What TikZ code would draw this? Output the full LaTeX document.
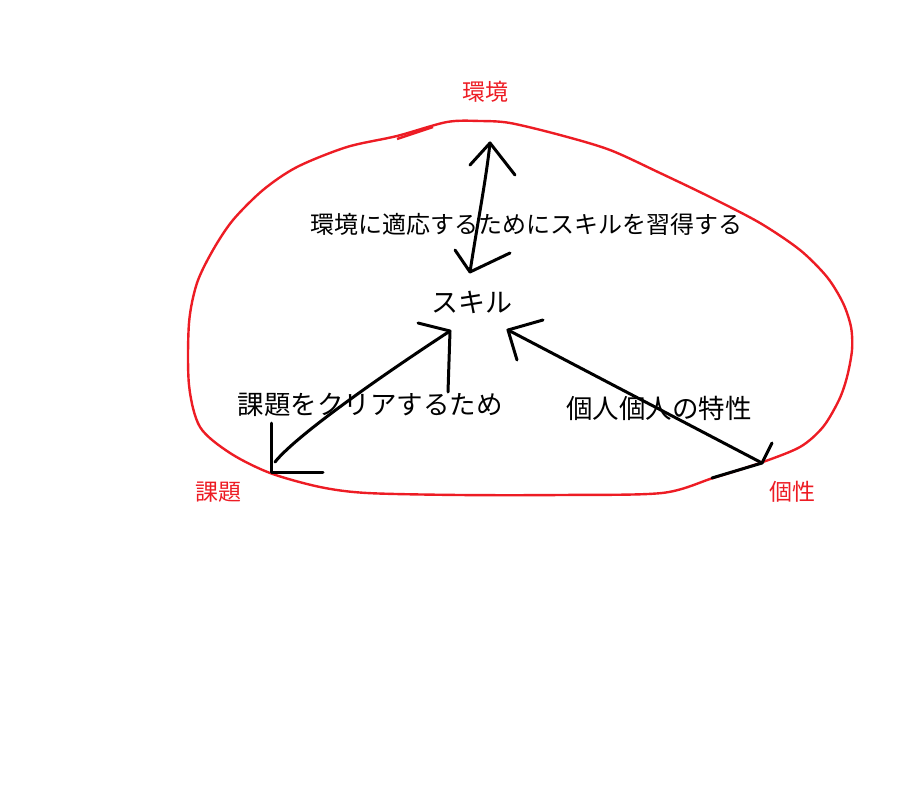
\documentclass[tikz,border=0pt]{standalone}
\usepackage{fontspec}
\setmainfont{Noto Sans CJK JP}
\definecolor{paintred}{RGB}{237,28,36}
\begin{document}
\begin{tikzpicture}[x=1pt,y=-1pt,
  pen/.style={draw=black, line width=3pt, line cap=round, line join=round},
  redline/.style={draw=paintred, line width=2.4pt},
  blacktext/.style={inner sep=0pt, text=black},
  redtext/.style={inner sep=0pt, text=paintred, font=\fontsize{23}{26}\selectfont}]
\useasboundingbox (0,0) rectangle (907,792);

% outline
\draw[redline] plot[smooth cycle, tension=0.5] coordinates {(447,122) (480,121) (510,123) (560,135) (610,150) (660,173) (710,197) (760,223) (800,250) (827,277) (843,303) (851,327) (852,350) (847,377) (839,400) (823,427) (800,447) (760,463) (713,478) (662,493) (560,495) (460,495) (367,493) (320,487) (270,473) (230,453) (200,427) (189,385) (189,323) (197,283) (213,250) (233,220) (263,190) (297,167) (347,147) (397,136)};
\draw[redline] (397,139) -- (433,127);

% labels
\node[redtext] (env) at (485,92) {環境};
\node[redtext] (task) at (218,492) {課題};
\node[redtext] (trait) at (792,492) {個性};

\node[blacktext, font=\fontsize{24}{28}\selectfont] (adapt) at (526,224) {環境に適応するためにスキルを習得する};
\node[blacktext, font=\fontsize{27}{30}\selectfont] (skill) at (472,302) {スキル};
\node[blacktext, font=\fontsize{26.5}{30}\selectfont] (clear) at (370,405) {課題をクリアするため};
\node[blacktext, font=\fontsize{26.5}{30}\selectfont] (indiv) at (659,408) {個人個人の特性};

% arrows
\coordinate (envtip) at (490,143);
\coordinate (envend) at (470,272);
\draw[pen] (envend) .. controls (478,220) and (486,180) .. (envtip);
\draw[pen] (470,165) -- (envtip) -- (515,175);
\draw[pen] (455,250) -- (envend) -- (510,253);

\coordinate (tasktip) at (450,331);
\coordinate (taskend) at (275,462);
\draw[pen] (taskend) .. controls (295,437) and (372,382) .. (tasktip);
\draw[pen] (418,323) -- (tasktip) -- (448,392);
\draw[pen] (271,423) -- (271,472) -- (323,472);

\coordinate (traittip) at (508,330);
\coordinate (traitend) at (762,463);
\draw[pen] (traitend) -- (traittip);
\draw[pen] (543,320) -- (traittip) -- (517,360);
\draw[pen] (772,443) -- (traitend) -- (712,478);
\end{tikzpicture}
\end{document}
